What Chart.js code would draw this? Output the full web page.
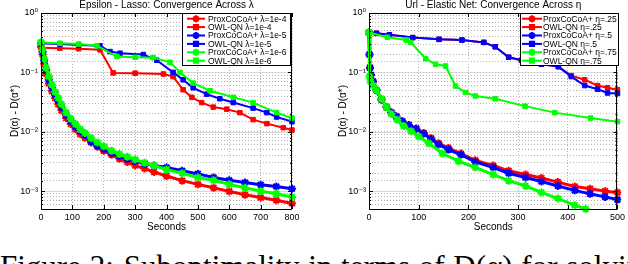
<!DOCTYPE html>
<html><head><meta charset="utf-8">
<script src="https://cdn.jsdelivr.net/npm/chart.js@4.4.1/dist/chart.umd.min.js"></script>
<style>
html,body{margin:0;padding:0;background:#fff;width:628px;height:264px;overflow:hidden;position:relative}
#c1{position:absolute;left:0;top:0}
#c2{position:absolute;left:330px;top:0}
#cap{position:absolute;left:0;top:251px;font-family:"Liberation Serif","DejaVu Serif",serif;font-size:31px;line-height:31px;white-space:nowrap;color:#000;word-spacing:1px}
#cap span{margin-left:10px}
</style></head><body>
<canvas id="c1" width="310" height="240"></canvas>
<canvas id="c2" width="298" height="240"></canvas>
<div id="cap">Figure 2:<span>Suboptimality in terms of D(α) for solving</span></div>
<script>
// ---------- DATA ----------
const leftTitle = "Epsilon - Lasso: Convergence Across λ";
const rightTitle = "Url - Elastic Net: Convergence Across η";
const leftLabels = ["ProxCoCoA+ λ=1e-4","OWL-QN λ=1e-4","ProxCoCoA+ λ=1e-5","OWL-QN λ=1e-5","ProxCoCoA+ λ=1e-6","OWL-QN λ=1e-6"];
const rightLabels = ["ProxCoCoA+ η=.25","OWL-QN η=.25","ProxCoCoA+ η=.5","OWL-QN η=.5","ProxCoCoA+ η=.75","OWL-QN η=.75"];
const yDecades = [1, 0.1, 0.01, 0.001];
const yDecadeLabels = ["10⁰","10⁻¹","10⁻²","10⁻³"];
const xLabel = "Seconds";
const yLabel = "D(α) - D(α*)";

// Epsilon - Lasso (seconds, suboptimality)
const epsProx4 = [[0,0.27],[5,0.2],[10,0.14],[16,0.095],[25,0.065],[35,0.048],[45,0.037],[55,0.029],[65,0.023],[80,0.017],[95,0.0135],[110,0.011],[125,0.0092],[140,0.0079],[160,0.0066],[180,0.0056],[200,0.0048],[225,0.0041],[250,0.0035],[275,0.0031],[300,0.0027],[330,0.0024],[360,0.0021],[400,0.0018],[450,0.0015],[500,0.0013],[550,0.00114],[600,0.00099],[650,0.00087],[700,0.00078],[750,0.0007],[800,0.00062]];
const epsOwl4 = [[0,0.26],[60,0.255],[120,0.25],[188,0.24],[230,0.098],[300,0.097],[390,0.094],[421,0.085],[453,0.051],[481,0.038],[512,0.031],[549,0.026],[592,0.024],[634,0.021],[676,0.016],[720,0.0137],[772,0.0117],[800,0.0107]];
const epsProx5 = [[0,0.31],[5,0.22],[10,0.16],[16,0.11],[25,0.075],[35,0.055],[45,0.042],[55,0.033],[65,0.026],[80,0.019],[95,0.015],[110,0.0122],[125,0.0102],[140,0.0088],[160,0.0068],[180,0.0058],[200,0.0051],[225,0.0044],[250,0.0039],[275,0.0035],[300,0.0032],[330,0.0029],[360,0.0027],[400,0.0025],[450,0.0022],[500,0.00195],[550,0.0017],[600,0.00152],[650,0.0014],[700,0.00128],[750,0.0012],[800,0.0011]];
const epsOwl5 = [[0,0.31],[60,0.3],[120,0.29],[188,0.28],[220,0.224],[252,0.21],[326,0.2],[369,0.16],[421,0.1],[453,0.075],[485,0.055],[528,0.043],[570,0.036],[613,0.031],[676,0.025],[720,0.021],[751,0.0177],[800,0.0148]];
const epsProx6 = [[0,0.32],[5,0.24],[10,0.17],[16,0.12],[25,0.085],[35,0.062],[45,0.047],[55,0.037],[65,0.029],[80,0.021],[95,0.0165],[110,0.0135],[125,0.011],[140,0.0095],[160,0.0078],[180,0.0066],[200,0.0057],[225,0.0048],[250,0.0042],[275,0.0038],[300,0.0034],[330,0.003],[360,0.0027],[400,0.0023],[450,0.002],[500,0.0017],[550,0.00152],[600,0.0013],[650,0.00114],[700,0.001],[750,0.0009],[800,0.0008]];
const epsOwl6 = [[0,0.32],[60,0.31],[120,0.3],[178,0.28],[242,0.185],[300,0.18],[357,0.177],[411,0.148],[443,0.1],[485,0.066],[539,0.049],[613,0.038],[676,0.031],[751,0.021],[800,0.017]];

// Url - Elastic Net
const urlProx25 = [[0,0.47],[1,0.2],[2,0.12],[4,0.09],[8,0.07],[15,0.05],[25,0.035],[35,0.026],[45,0.021],[55,0.018],[67,0.015],[80,0.013],[95,0.0113],[110,0.0095],[125,0.0078],[140,0.0064],[160,0.0053],[185,0.0043],[214,0.0033],[250,0.0027],[281,0.0022],[315,0.0019],[347,0.00166],[380,0.00142],[414,0.0012],[445,0.0011],[475,0.001],[500,0.00095]];
const urlOwl25 = [[0,0.47],[15,0.455],[41,0.43],[88,0.385],[141,0.36],[187,0.35],[231,0.32],[254,0.27],[281,0.18],[307,0.16],[347,0.137],[381,0.125],[407,0.088],[434,0.075],[460,0.06],[480,0.055],[500,0.051]];
const urlProx5 = [[0,0.47],[1,0.2],[2,0.12],[4,0.09],[8,0.07],[15,0.05],[25,0.035],[35,0.026],[45,0.021],[55,0.018],[67,0.015],[80,0.013],[95,0.0112],[110,0.0093],[125,0.0075],[140,0.0061],[160,0.005],[185,0.0041],[214,0.0031],[250,0.0025],[281,0.002],[315,0.0017],[347,0.00145],[380,0.00122],[414,0.00103],[445,0.0009],[475,0.0008],[500,0.00072]];
const urlOwl5 = [[0,0.47],[15,0.455],[41,0.43],[88,0.385],[141,0.36],[187,0.35],[231,0.32],[254,0.27],[281,0.18],[307,0.16],[347,0.137],[381,0.125],[407,0.085],[434,0.06],[460,0.052],[480,0.045],[500,0.044]];
const urlProx75 = [[0,0.47],[1,0.085],[3,0.07],[8,0.06],[15,0.05],[25,0.036],[35,0.026],[45,0.02],[57,0.016],[70,0.0125],[85,0.0102],[100,0.0083],[120,0.0064],[148,0.0043],[180,0.0032],[214,0.0025],[250,0.0019],[281,0.0015],[315,0.00122],[347,0.00095],[380,0.00075],[414,0.00058],[436,0.0005]];
const urlOwl75 = [[0,0.47],[37,0.39],[75,0.35],[84,0.32],[114,0.17],[134,0.137],[154,0.128],[174,0.059],[194,0.046],[214,0.04],[254,0.036],[314,0.027],[374,0.021],[446,0.017],[500,0.0148]];

const RED = "#ff0000", BLUE = "#0000ff", GREEN = "#00ff00";
const FONT = "'Liberation Sans','DejaVu Sans',Arial,sans-serif";

function ds(label, color, pts, star, order) {
  return {
    label, order,
    data: pts.map(p => ({x: p[0], y: p[1]})),
    borderColor: color, backgroundColor: color,
    pointBackgroundColor: color, pointBorderColor: color,
    borderWidth: star ? 3 : 2,
    pointStyle: star ? 'star' : 'rect',
    pointRadius: star ? 4 : 3.2,
    pointBorderWidth: star ? 2 : 1,
    tension: 0, fill: false, clip: 4
  };
}

const isDecade = v => Math.abs(Math.log10(v) - Math.round(Math.log10(v))) < 1e-9;

const matlabPlugin = {
  id: 'matlab',
  beforeDatasetsDraw(chart) {
    const ctx = chart.ctx, y = chart.scales.y, a = chart.chartArea;
    ctx.save();
    ctx.strokeStyle = '#d6d6d6'; ctx.lineWidth = 1;
    yDecades.forEach(v => {
      const py = Math.round(y.getPixelForValue(v)) + 0.5;
      if (py > a.top + 1 && py < a.bottom - 1) {
        ctx.beginPath(); ctx.moveTo(a.left, py); ctx.lineTo(a.right, py); ctx.stroke();
      }
    });
    ctx.restore();
  },
  afterDatasetsDraw(chart) {
    const ctx = chart.ctx, xs = chart.scales.x, ys = chart.scales.y, a = chart.chartArea;
    ctx.save();
    ctx.strokeStyle = '#000'; ctx.lineWidth = 1;
    const line = (x1,y1,x2,y2) => { ctx.beginPath(); ctx.moveTo(x1,y1); ctx.lineTo(x2,y2); ctx.stroke(); };
    xs.ticks.forEach(t => {
      const px = Math.round(xs.getPixelForValue(t.value)) + 0.5;
      line(px, a.bottom, px, a.bottom - 4); line(px, a.top, px, a.top + 4);
    });
    ys.ticks.forEach(t => {
      const py = Math.round(ys.getPixelForValue(t.value)) + 0.5;
      const len = isDecade(t.value) ? 4 : 2;
      line(a.left, py, a.left + len, py); line(a.right, py, a.right - len, py);
    });
    ctx.strokeRect(Math.round(a.left) + 0.5, Math.round(a.top) + 0.5, Math.round(a.right - a.left) - 1, Math.round(a.bottom - a.top));
    ctx.restore();
  },
  afterDraw(chart) {
    const o = chart.options.plugins.matlab, ctx = chart.ctx, a = chart.chartArea;
    ctx.save();
    ctx.fillStyle = '#000'; ctx.font = '10px ' + FONT;
    ctx.textAlign = 'center'; ctx.textBaseline = 'middle';
    ctx.fillText(o.title, (a.left + a.right) / 2, 5.5);
    const L = o.legend;
    ctx.fillStyle = '#fff';
    ctx.fillRect(L.x, L.y, L.w, L.h);
    ctx.strokeStyle = '#000'; ctx.lineWidth = 1;
    ctx.strokeRect(L.x + 0.5, L.y + 0.5, L.w, L.h);
    ctx.font = '8.5px ' + FONT; ctx.textAlign = 'left';
    chart.data.datasets.forEach((d, i) => {
      const cy = L.y + L.r0 + i * L.dy;
      ctx.strokeStyle = d.borderColor; ctx.lineWidth = 2;
      ctx.beginPath(); ctx.moveTo(L.lx, cy); ctx.lineTo(L.lx + L.ll, cy); ctx.stroke();
      ctx.fillStyle = d.borderColor;
      Chart.helpers.drawPoint(ctx, {pointStyle: d.pointStyle, radius: d.pointStyle === 'star' ? 3.5 : 3, borderWidth: 1.5, rotation: 0}, L.lx + L.ll / 2, cy);
      ctx.fillStyle = '#000';
      ctx.fillText(d.label, L.tx, cy + 0.5);
    });
    ctx.restore();
  }
};

function makeChart(id, title, labels, series, xmax, yWidth, yTitlePad, padRight, legend) {
  const colors = [RED, RED, BLUE, BLUE, GREEN, GREEN];
  const orders = [5, 4, 3, 2, 1, 0];
  const datasets = series.map((s, i) => ds(labels[i], colors[i], s, i % 2 === 0, orders[i]));
  return new Chart(document.getElementById(id), {
    type: 'line',
    data: { datasets },
    plugins: [matlabPlugin],
    options: {
      responsive: false, animation: false, devicePixelRatio: 1,
      layout: { padding: { top: 13, right: padRight, left: 0, bottom: 0 } },
      plugins: { legend: { display: false }, tooltip: { enabled: false }, matlab: { title, legend } },
      scales: {
        x: {
          type: 'linear', min: 0, max: xmax,
          ticks: { stepSize: 100, padding: 3, color: '#000', font: { family: FONT, size: 9 }, maxRotation: 0 },
          grid: { color: '#b4b4b4', drawTicks: false, lineWidth: 1 },
          border: { display: false, dash: [1, 2] },
          title: { display: true, text: xLabel, color: '#000', font: { family: FONT, size: 10 }, padding: { top: 0, bottom: 7 } },
          afterFit(s) { s.height = 31; }
        },
        y: {
          type: 'logarithmic', min: 0.0005, max: 1,
          ticks: { autoSkip: false, padding: 3, color: '#000', font: { family: FONT, size: 9 },
            callback: v => { const k = yDecades.findIndex(d => Math.abs(d - v) < d * 1e-6); return k >= 0 ? yDecadeLabels[k] : ''; } },
          grid: { color: '#b4b4b4', drawTicks: false, lineWidth: 1 },
          border: { display: false, dash: [1, 2] },
          title: { display: true, text: yLabel, color: '#000', font: { family: FONT, size: 10 }, padding: { top: yTitlePad, bottom: 0 } },
          afterFit(s) { s.width = yWidth; }
        }
      }
    }
  });
}

makeChart('c1', leftTitle, leftLabels, [epsProx4, epsOwl4, epsProx5, epsOwl5, epsProx6, epsOwl6], 800, 41, 9, 18,
  { x: 182, y: 13, w: 108, h: 52, r0: 5.7, dy: 8.4, lx: 187, ll: 18, tx: 208 });
makeChart('c2', rightTitle, rightLabels, [urlProx25, urlOwl25, urlProx5, urlOwl5, urlProx75, urlOwl75], 500, 39, 7, 8,
  { x: 190, y: 13, w: 98, h: 52, r0: 5.7, dy: 8.4, lx: 192, ll: 20, tx: 213 });
</script>
</body></html>
